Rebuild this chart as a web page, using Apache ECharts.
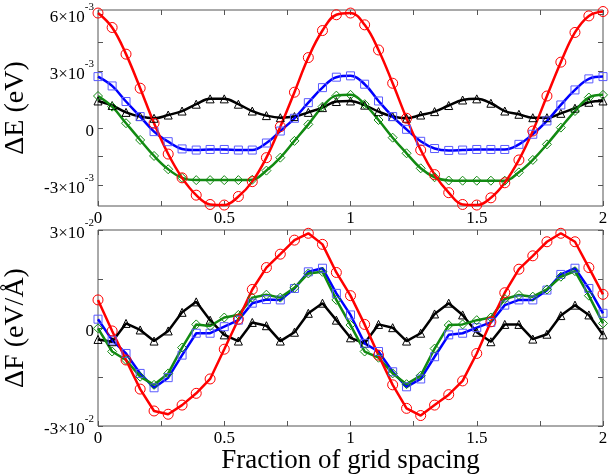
<!DOCTYPE html>
<html>
<head>
<meta charset="utf-8">
<script src="https://cdn.jsdelivr.net/npm/echarts@6/dist/echarts.min.js"></script>
<style>
html, body { margin: 0; padding: 0; background: #fff; }
#chart { width: 610px; height: 474px; }
</style>
</head>
<body>
<div id="chart"></div>
<script>
// fraction of grid spacing (x for every series)
var xs = [0, 0.056, 0.111, 0.167, 0.222, 0.278, 0.333, 0.389, 0.444, 0.5,
          0.556, 0.611, 0.667, 0.722, 0.778, 0.833, 0.889, 0.944, 1,
          1.056, 1.111, 1.167, 1.222, 1.278, 1.333, 1.389, 1.444, 1.5,
          1.556, 1.611, 1.667, 1.722, 1.778, 1.833, 1.889, 1.944, 2];

// top panel, dE in units of 1e-3 eV
var dE_red   = [6.04, 5.28, 3.88, 2.09, 0.25, -1.37, -2.62, -3.53, -4.02, -4.05, -3.6, -2.82, -1.56, 0.07, 1.88, 3.7, 5.12, 5.95, 6.04,
                5.42, 4.1, 2.35, 0.51, -1.16, -2.45, -3.4, -4.02, -4.05, -3.67, -2.88, -1.68, -0.16, 1.68, 3.46, 5.02, 5.89, 6.12];
var dE_blue  = [2.7, 2.21, 1.39, 0.6, -0.19, -0.72, -1.1, -1.16, -1.13, -1.13, -1.16, -1.16, -0.79, -0.16, 0.51, 1.33, 2.12, 2.67, 2.74,
                2.3, 1.42, 0.6, -0.07, -0.7, -1.08, -1.18, -1.16, -1.13, -1.13, -1.13, -0.86, -0.33, 0.37, 1.21, 2.0, 2.58, 2.7];
var dE_green = [1.68, 1.12, 0.25, -0.63, -1.47, -2.17, -2.62, -2.74, -2.74, -2.74, -2.74, -2.72, -2.24, -1.56, -0.68, 0.19, 1.12, 1.7, 1.74,
                1.25, 0.42, -0.51, -1.33, -2.12, -2.59, -2.76, -2.77, -2.77, -2.77, -2.77, -2.33, -1.68, -0.86, 0.02, 0.89, 1.6, 1.74];
var dE_black = [1.42, 1.18, 0.82, 0.6, 0.51, 0.68, 0.89, 1.25, 1.53, 1.53, 1.25, 0.89, 0.65, 0.54, 0.6, 0.82, 1.07, 1.39, 1.42,
                1.2, 0.86, 0.6, 0.51, 0.68, 0.86, 1.18, 1.47, 1.53, 1.3, 0.89, 0.72, 0.54, 0.54, 0.77, 1.04, 1.35, 1.42];

// bottom panel, dF in units of 1e-2 eV/A
var dF_red   = [0.86, -0.09, -0.98, -1.87, -2.54, -2.64, -2.36, -2.0, -1.56, -0.65, 0.27, 1.18, 1.85, 2.26, 2.69, 2.9, 2.56, 1.7, 0.99,
                0.11, -0.83, -1.74, -2.46, -2.68, -2.36, -2.04, -1.62, -0.78, 0.19, 1.08, 1.8, 2.21, 2.64, 2.9, 2.64, 1.85, 1.03];
var dF_blue  = [0.27, -0.37, -0.78, -1.39, -1.83, -1.52, -0.83, -0.16, -0.16, 0.04, 0.24, 0.76, 0.87, 0.86, 1.21, 1.72, 1.83, 1.06, 0.4,
                -0.47, -0.72, -1.34, -1.8, -1.56, -0.88, -0.21, -0.16, 0.01, 0.17, 0.7, 0.86, 0.86, 1.16, 1.64, 1.83, 1.21, 0.45];
var dF_green = [-0.01, -0.72, -0.98, -1.49, -1.74, -1.39, -0.6, 0.11, 0.06, 0.32, 0.4, 0.93, 1.02, 0.93, 1.23, 1.67, 1.72, 0.86, 0.09,
                -0.72, -0.91, -1.39, -1.72, -1.46, -0.63, 0.09, 0.11, 0.24, 0.32, 0.89, 1.01, 0.96, 1.18, 1.57, 1.74, 0.99, 0.14];
var dF_black = [-0.35, -0.42, 0.14, -0.06, -0.4, -0.09, 0.48, 0.8, 0.24, -0.21, -0.4, 0.17, 0.07, -0.4, -0.13, 0.45, 0.76, 0.24, -0.3,
                -0.47, 0.11, 0.01, -0.4, -0.16, 0.43, 0.76, 0.4, -0.13, -0.42, 0.11, 0.11, -0.34, -0.19, 0.38, 0.7, 0.4, -0.21];

// tick positions / labels
var xTicks = [0, 0.5, 1, 1.5, 2];
var topTicks = [-3, -1.5, 0, 1.5, 3, 4.5, 6];
var topLabels = [-3, 0, 3, 6];
var botTicks = [-3, -1.5, 0, 1.5, 3];
var botLabels = [-3, 0, 3];

var FONT = '"Liberation Serif", "DejaVu Serif", serif';
var AXC = '#555';

function pairs(d) {
    return xs.map(function (x, i) { return [x, d[i]]; });
}

function serie(data, color, mark, size, mcolor, g, smooth) {
    return {
        type: 'line',
        xAxisIndex: g * 2,
        yAxisIndex: g * 2,
        data: pairs(data),
        smooth: smooth,
        symbol: mark,
        symbolSize: size,
        lineStyle: { color: color, width: 2.5 },
        itemStyle: { color: 'transparent', borderColor: mcolor, borderWidth: 1 },
        emphasis: { disabled: true }
    };
}

function supLabel(exp) {
    return function (v) {
        if (v === 0) return '{a|0}';
        return '{a|' + v + '×10}{s|' + exp + '}';
    };
}

var rich = {
    a: { fontFamily: FONT, fontSize: 17, color: '#000', lineHeight: 24, verticalAlign: 'bottom' },
    s: { fontFamily: FONT, fontSize: 11, color: '#000', lineHeight: 12, verticalAlign: 'top' }
};

function xAx(g, pos, labels, name) {
    return {
        type: 'value', gridIndex: g, position: pos, min: 0, max: 2, interval: 0.5,
        axisLine: { show: false, onZero: false },
        axisTick: { show: true, inside: true, length: 5, lineStyle: { color: AXC } },
        minorTick: { show: true, splitNumber: 2, length: 5, lineStyle: { color: AXC } },
        splitLine: { show: false },
        axisLabel: { show: labels, margin: 4, fontFamily: FONT, fontSize: 17, color: '#000',
                     customValues: xTicks },
        name: name || '',
        nameLocation: 'middle',
        nameGap: 21,
        nameTextStyle: { fontFamily: FONT, fontSize: 27, color: '#000' }
    };
}

function yAx(g, pos, min, max, ticks, labels, exp, name) {
    return {
        type: 'value', gridIndex: g, position: pos, min: min, max: max,
        axisLine: { show: false, onZero: false },
        axisTick: { show: true, inside: true, length: 5, customValues: ticks, lineStyle: { color: AXC } },
        splitLine: { show: false },
        axisLabel: { show: !!labels, margin: 4, customValues: labels || [], formatter: supLabel(exp), rich: rich },
        name: name || '',
        nameLocation: 'middle',
        nameGap: 68,
        nameTextStyle: { fontFamily: FONT, fontSize: 28, color: '#000' }
    };
}

var chart = echarts.init(document.getElementById('chart'));
chart.setOption({
    animation: false,
    backgroundColor: '#fff',
    grid: [
        { left: 98, right: 7, top: 10, height: 196, show: true, borderColor: AXC, borderWidth: 1,
          containLabel: false, outerBoundsMode: 'none' },
        { left: 98, right: 7, top: 230, height: 196, show: true, borderColor: AXC, borderWidth: 1,
          containLabel: false, outerBoundsMode: 'none' }
    ],
    xAxis: [
        xAx(0, 'bottom', true),
        xAx(0, 'top', false),
        xAx(1, 'bottom', true, 'Fraction of grid spacing'),
        xAx(1, 'top', false)
    ],
    yAxis: [
        yAx(0, 'left', -4.1, 6.2, topTicks, topLabels, '-3', 'ΔE (eV)'),
        yAx(0, 'right', -4.1, 6.2, topTicks, null, '-3'),
        yAx(1, 'left', -3, 3, botTicks, botLabels, '-2', 'ΔF (eV/Å)'),
        yAx(1, 'right', -3, 3, botTicks, null, '-2')
    ],
    series: [
        serie(dE_black, '#000', 'triangle', 8, '#000', 0, 0.4),
        serie(dE_blue, '#0000ff', 'rect', 8, '#5a5aff', 0, 0.4),
        serie(dE_green, '#128a12', 'diamond', 9, '#128a12', 0, 0.4),
        serie(dE_red, '#ff0000', 'circle', 10, '#ff0000', 0, 0.4),
        serie(dF_black, '#000', 'triangle', 8, '#000', 1, false),
        serie(dF_blue, '#0000ff', 'rect', 8, '#5a5aff', 1, false),
        serie(dF_green, '#128a12', 'diamond', 9, '#128a12', 1, false),
        serie(dF_red, '#ff0000', 'circle', 10, '#ff0000', 1, false)
    ]
});
</script>
</body>
</html>
